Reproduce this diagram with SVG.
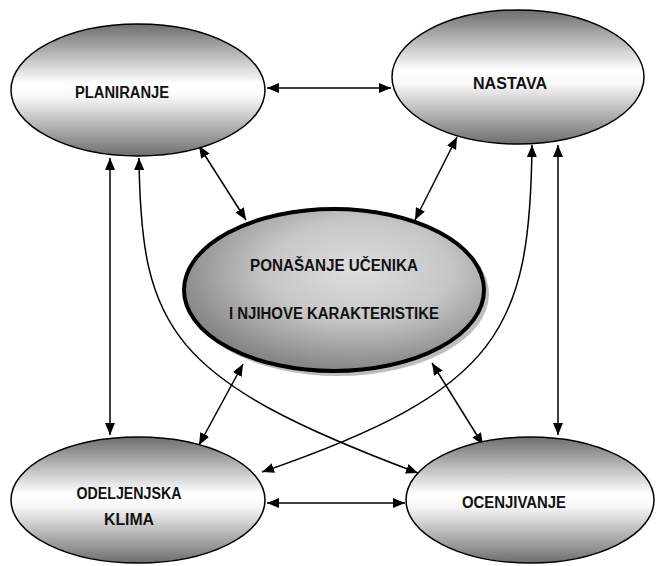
<svg xmlns="http://www.w3.org/2000/svg" width="656" height="566" viewBox="0 0 656 566">
<defs>
<linearGradient id="g" x1="0" y1="0" x2="0" y2="1">
<stop offset="0" stop-color="#6e6e6e"/>
<stop offset="0.45" stop-color="#ffffff"/>
<stop offset="0.55" stop-color="#f8f8f8"/>
<stop offset="1" stop-color="#6e6e6e"/>
</linearGradient>
<radialGradient id="rg" cx="0.58" cy="0.38" r="0.62">
<stop offset="0" stop-color="#dedede"/>
<stop offset="0.5" stop-color="#c6c6c6"/>
<stop offset="1" stop-color="#858585"/>
</radialGradient>
<marker id="ah" viewBox="0 0 12 10" refX="12" refY="5" markerWidth="12" markerHeight="10" markerUnits="userSpaceOnUse" orient="auto-start-reverse">
<path d="M0,0 L12,5 L0,10 Z" fill="#000"/>
</marker>
<style>
.n{fill:url(#g);stroke:#000;stroke-width:1.5}
.c{stroke:#000;stroke-width:1.5;fill:none;marker-start:url(#ah);marker-end:url(#ah)}
text{font-family:"Liberation Sans",Arial,sans-serif;font-weight:bold;font-size:16px;fill:#111;text-anchor:middle}
</style>
</defs>
<rect width="656" height="566" fill="#fff"/>
<g id="connectors">
<line class="c" x1="267" y1="88" x2="391" y2="88"/>
<line class="c" x1="267" y1="503" x2="405" y2="503"/>
<line class="c" x1="110" y1="158" x2="110" y2="435"/>
<line class="c" x1="558" y1="145" x2="558" y2="435"/>
<line class="c" x1="199" y1="146" x2="246" y2="220"/>
<line class="c" x1="457" y1="137" x2="415" y2="220"/>
<line class="c" x1="243" y1="364" x2="199" y2="445"/>
<line class="c" x1="432" y1="363" x2="483" y2="445"/>
<path class="c" d="M139,158 C141,330 170,380 418,473"/>
<path class="c" d="M532,145 C530,330 500,390 262,472"/>
</g>
<g id="planiranje">
<ellipse class="n" cx="138" cy="90" rx="127" ry="66"/>
<text x="122" y="98" textLength="94" lengthAdjust="spacingAndGlyphs">PLANIRANJE</text>
</g>
<g id="nastava">
<ellipse class="n" cx="518" cy="77" rx="126" ry="67"/>
<text x="510" y="89" textLength="74" lengthAdjust="spacingAndGlyphs">NASTAVA</text>
</g>
<g id="ponasanje">
<ellipse cx="338" cy="294" rx="151" ry="82" fill="#bdbdbd"/>
<ellipse cx="334" cy="290" rx="150" ry="81" fill="url(#rg)" stroke="#000" stroke-width="4"/>
<text x="334" y="271" textLength="168" lengthAdjust="spacingAndGlyphs">PONAŠANJE UČENIKA</text>
<text x="334" y="319" textLength="210" lengthAdjust="spacingAndGlyphs">I NJIHOVE KARAKTERISTIKE</text>
</g>
<g id="odeljenjska">
<ellipse class="n" cx="138" cy="500" rx="127" ry="63"/>
<text x="129" y="499" textLength="105" lengthAdjust="spacingAndGlyphs">ODELJENJSKA</text>
<text x="129" y="525" textLength="50" lengthAdjust="spacingAndGlyphs">KLIMA</text>
</g>
<g id="ocenjivanje">
<ellipse class="n" cx="530" cy="500" rx="124" ry="63"/>
<text x="514" y="508" textLength="104" lengthAdjust="spacingAndGlyphs">OCENJIVANJE</text>
</g>
</svg>
